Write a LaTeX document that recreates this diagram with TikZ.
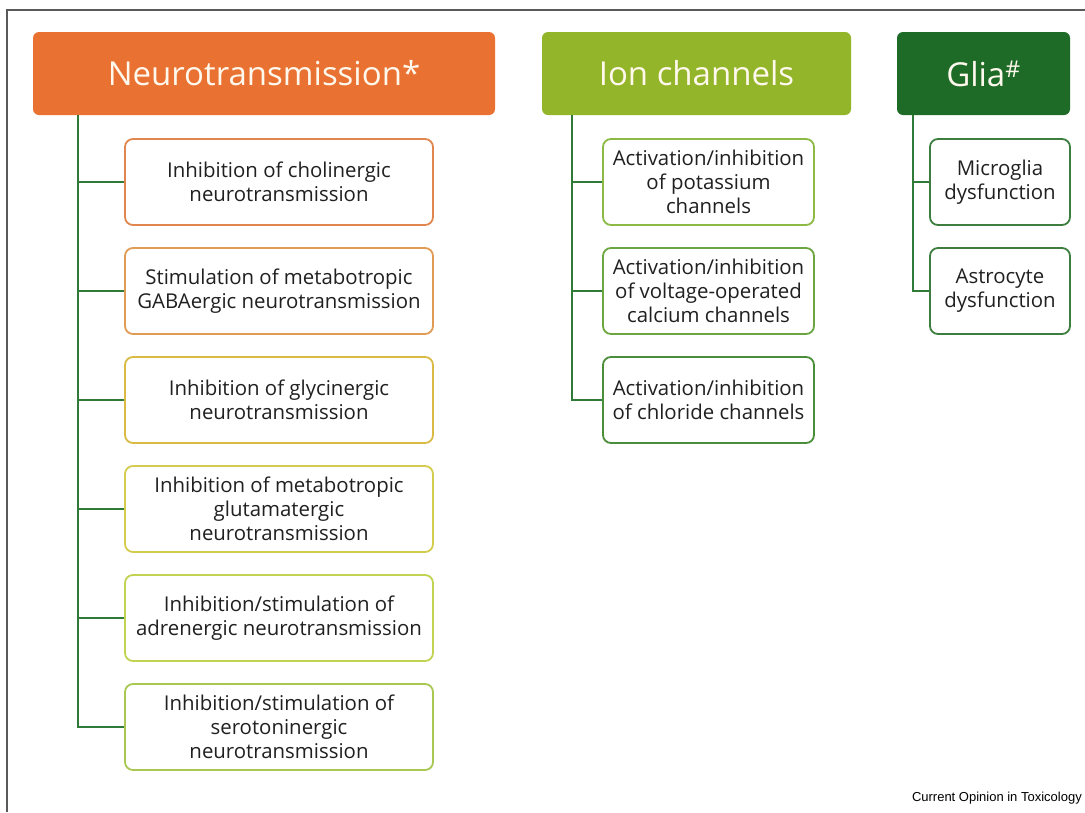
\documentclass[tikz,border=0pt]{standalone}
\usepackage{fontspec}
\setmainfont{Open Sans}
\newfontfamily\creditfont{Liberation Sans}
\begin{document}
\begin{tikzpicture}[x=1pt,y=-1pt,
  header/.style={rounded corners=6pt, minimum height=83pt, inner sep=0pt,
    text=headtext, font=\fontsize{33}{38}\selectfont},
  item/.style={draw=#1, line width=1.8pt, rounded corners=8pt, fill=white,
    minimum height=86pt, inner sep=2pt, align=center, text=itemtext,
    font=\fontsize{20.4}{24}\selectfont},
  tree/.style={draw=treegreen, line width=2pt},
  frameline/.style={draw=framegray, line width=1.3pt}]

\definecolor{headtext}{HTML}{FFF8EC}
\definecolor{itemtext}{HTML}{202020}
\definecolor{treegreen}{HTML}{2F7A36}
\definecolor{framegray}{HTML}{5A5A5A}
\definecolor{neurohead}{HTML}{E97132}
\definecolor{ionhead}{HTML}{93B52A}
\definecolor{gliahead}{HTML}{1E6B27}
\definecolor{nb1}{HTML}{E0864E}
\definecolor{nb2}{HTML}{E09C55}
\definecolor{nb3}{HTML}{D9BA45}
\definecolor{nb4}{HTML}{D3CC4C}
\definecolor{nb5}{HTML}{C2D352}
\definecolor{nb6}{HTML}{A8C852}
\definecolor{ib1}{HTML}{8CBA45}
\definecolor{ib2}{HTML}{6CA640}
\definecolor{ib3}{HTML}{4A8E3A}
\definecolor{gb}{HTML}{3D7E3F}

\useasboundingbox (0,0) rectangle (1085,812);

% outer frame (open to the right and bottom)
\draw[frameline] (7,812) -- (7,10) -- (1085,10);

% column headers
\node[header, fill=neurohead, minimum width=462pt] (neuro) at (264,73.5) {Neurotransmission*};
\node[header, fill=ionhead, minimum width=309pt] (ion) at (696.5,73.5) {Ion channels};
\node[header, fill=gliahead, minimum width=173pt] (glia) at (983.5,73.5) {Glia\textsuperscript{\#}};

% neurotransmission items
\node[item=nb1, minimum width=308pt] (n1) at (279,182) {Inhibition of cholinergic\\neurotransmission};
\node[item=nb2, minimum width=308pt] (n2) at (279,291) {Stimulation of metabotropic\\GABAergic neurotransmission};
\node[item=nb3, minimum width=308pt] (n3) at (279,400) {Inhibition of glycinergic\\neurotransmission};
\node[item=nb4, minimum width=308pt] (n4) at (279,509) {Inhibition of metabotropic\\glutamatergic\\neurotransmission};
\node[item=nb5, minimum width=308pt] (n5) at (279,618) {Inhibition/stimulation of\\adrenergic neurotransmission};
\node[item=nb6, minimum width=308pt] (n6) at (279,727) {Inhibition/stimulation of\\serotoninergic\\neurotransmission};

% ion channel items
\node[item=ib1, minimum width=211pt] (i1) at (708.5,182) {Activation/inhibition\\of potassium\\channels};
\node[item=ib2, minimum width=211pt] (i2) at (708.5,291) {Activation/inhibition\\of voltage-operated\\calcium channels};
\node[item=ib3, minimum width=211pt] (i3) at (708.5,400) {Activation/inhibition\\of chloride channels};

% glia items
\node[item=gb, minimum width=140pt] (g1) at (1000,182) {Microglia\\dysfunction};
\node[item=gb, minimum width=140pt] (g2) at (1000,291) {Astrocyte\\dysfunction};

% tree trunks
\coordinate (nt) at ([xshift=45pt]neuro.south west);
\coordinate (it) at ([xshift=30pt]ion.south west);
\coordinate (gt) at ([xshift=16pt]glia.south west);

\draw[tree] (nt) |- (n6.west);
\foreach \k in {1,...,5} \draw[tree] (n\k.west) -- (n\k.west -| nt);
\draw[tree] (it) |- (i3.west);
\foreach \k in {1,2} \draw[tree] (i\k.west) -- (i\k.west -| it);
\draw[tree] (gt) |- (g2.west);
\draw[tree] (g1.west) -- (g1.west -| gt);

% source credit
\node[anchor=base east, inner sep=0pt, font=\creditfont\fontsize{13}{15}\selectfont] (credit) at (1082,801) {Current Opinion in Toxicology};
\end{tikzpicture}
\end{document}
